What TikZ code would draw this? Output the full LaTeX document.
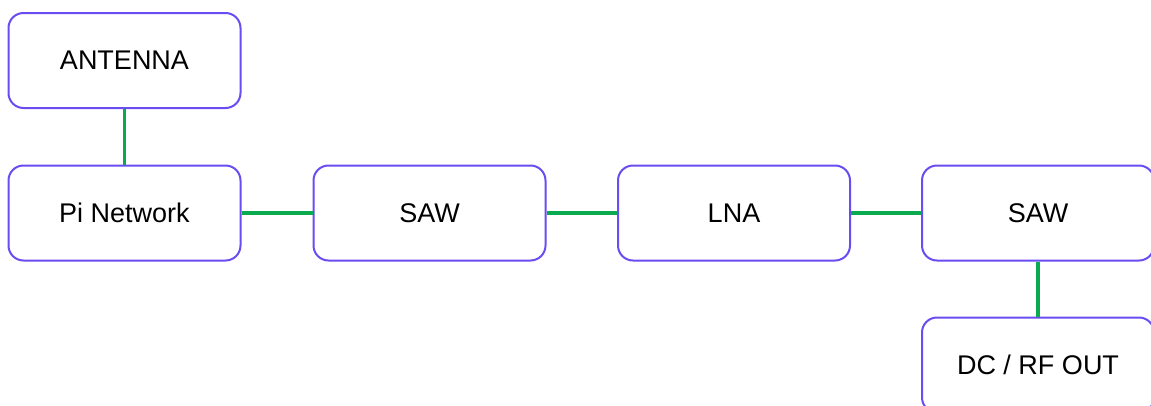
\documentclass[tikz,border=0pt]{standalone}
\usepackage{fontspec}
\setmainfont{Liberation Sans}
\definecolor{boxline}{HTML}{6A4CF2}
\definecolor{wire}{HTML}{0BAA4E}
\begin{document}
\begin{tikzpicture}[x=1pt,y=-1pt,
  blk/.style={draw=boxline,line width=2pt,rounded corners=15pt,fill=white,
    minimum width=232pt,minimum height=95pt,inner sep=0pt,
    font=\fontsize{27}{32}\selectfont,anchor=center},
  conn/.style={draw=wire,line width=3.5pt}]
\useasboundingbox (0,0) rectangle (1151,405);
\node[blk] (ant) at (124.5,60.5) {ANTENNA};
\node[blk] (pi) at (124.5,213) {Pi Network};
\node[blk] (saw1) at (429.5,213) {SAW};
\node[blk] (lna) at (734,213) {LNA};
\node[blk] (saw2) at (1038,213) {SAW};
\node[blk] (out) at (1038,365) {DC / RF OUT};
\draw[conn] (ant.south) -- (pi.north);
\draw[conn] (pi.east) -- (saw1.west);
\draw[conn] (saw1.east) -- (lna.west);
\draw[conn] (lna.east) -- (saw2.west);
\draw[conn] (saw2.south) -- (out.north);
\end{tikzpicture}
\end{document}
